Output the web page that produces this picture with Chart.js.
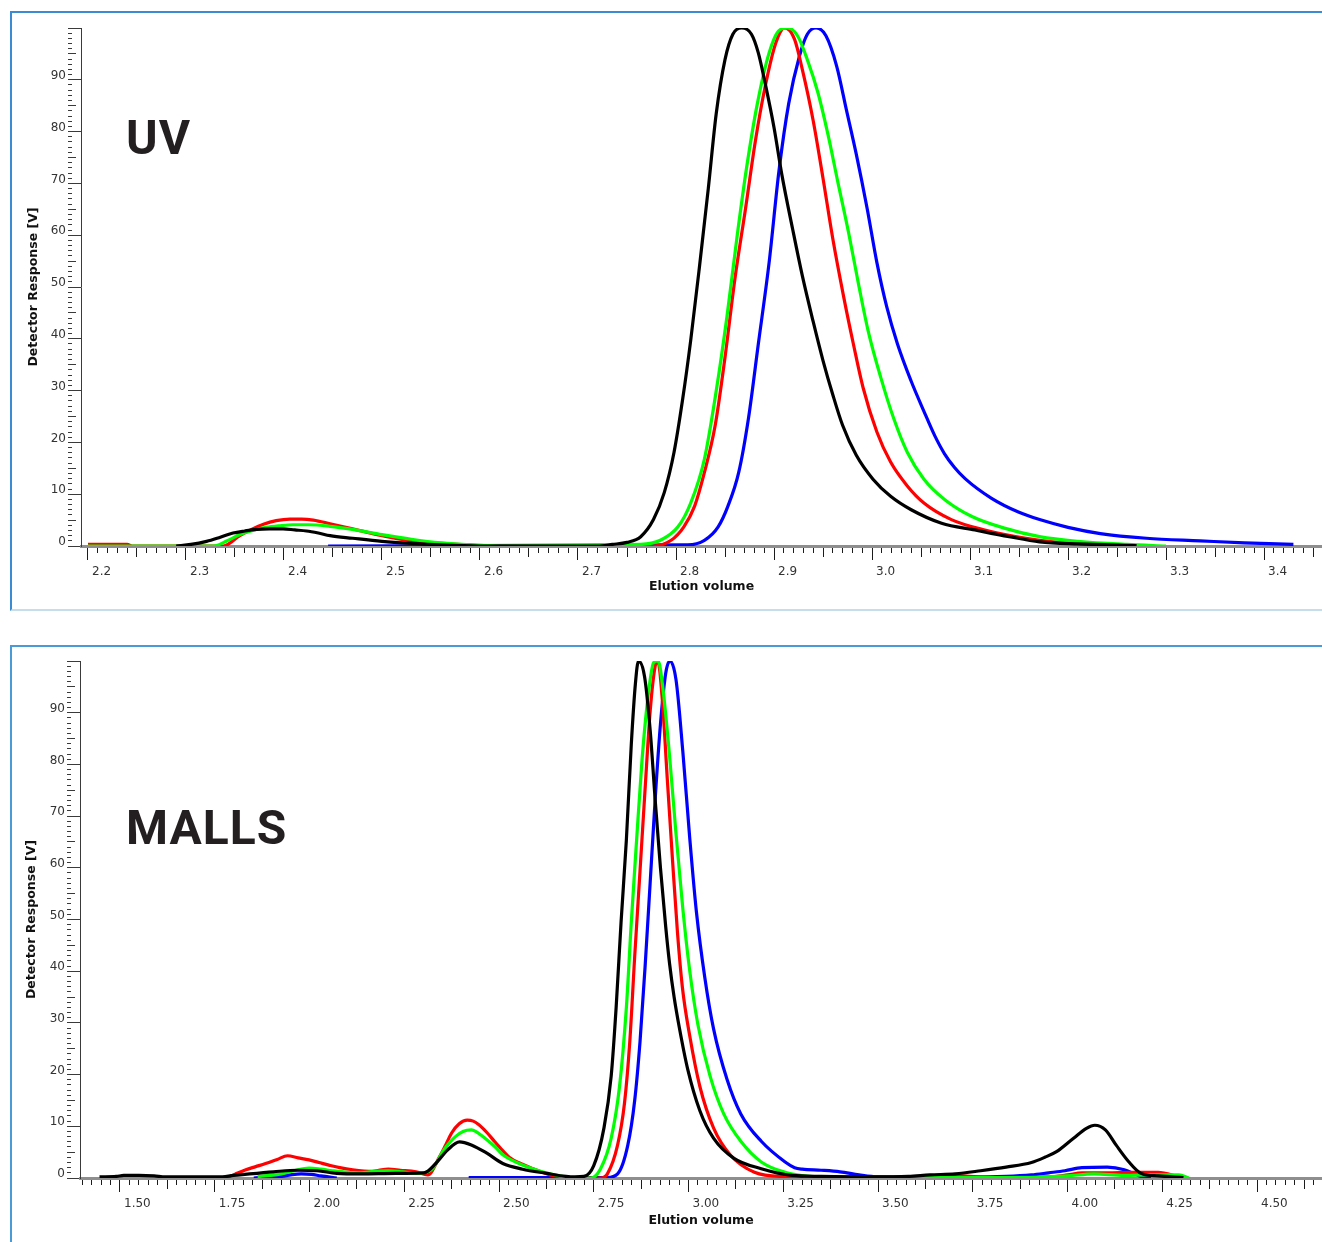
<!DOCTYPE html>
<html>
<head>
<meta charset="utf-8">
<title>UV / MALLS elution profiles</title>
<script src="https://cdn.jsdelivr.net/npm/chart.js@4.4.1/dist/chart.umd.min.js"></script>
<style>
  html, body { margin: 0; padding: 0; background: #fff; overflow: hidden; }
  body { width: 1322px; height: 1242px; position: relative; }
  .panel { position: absolute; left: 10px; width: 1340px; box-sizing: border-box; }
  #uvPanel { top: 11px; height: 600px; border-top: 2px solid #3b8bd2; border-left: 2px solid #3b8bd2; border-bottom: 2px solid #c6dee9; }
  #mallsPanel { top: 645px; height: 640px; border-top: 2px solid #4b9ad8; border-left: 2px solid #4b9ad8; }
  canvas { position: absolute; left: 12px; }
  #uvChart { top: 13px; }
  #mallsChart { top: 647px; }
  .tag { position: absolute; left: 126px; font-family: Roboto, "Liberation Sans", sans-serif; font-weight: 700; font-size: 48px; line-height: 1; letter-spacing: 1px; color: #231f20; }
</style>
</head>
<body>
<div class="panel" id="uvPanel"></div>
<div class="panel" id="mallsPanel"></div>
<canvas id="uvChart" width="1310" height="596"></canvas>
<canvas id="mallsChart" width="1310" height="595"></canvas>
<div class="tag" style="top:114px">UV</div>
<div class="tag" style="top:804px">MALLS</div>
<script>
// [elution volume, detector response]

// UV detector
const uvBlack = [[2.290,0.0],[2.305,0.3],[2.321,0.9],[2.335,1.7],[2.348,2.5],[2.360,2.9],[2.372,3.2],[2.385,3.3],[2.399,3.3],[2.411,3.1],[2.423,2.9],[2.435,2.5],[2.447,2.0],[2.470,1.5],[2.500,0.9],[2.530,0.5],[2.560,0.2],[2.600,0.0],[2.720,0.0],[2.735,0.3],[2.750,0.7],[2.764,1.8],[2.777,5.1],[2.788,10.3],[2.798,18.1],[2.807,28.6],[2.815,39.7],[2.824,54.0],[2.833,69.1],[2.841,83.4],[2.850,93.9],[2.858,98.8],[2.867,100.0],[2.877,98.8],[2.884,95.2],[2.891,89.3],[2.900,80.8],[2.908,71.7],[2.919,61.2],[2.929,52.1],[2.940,43.3],[2.950,35.8],[2.960,29.2],[2.970,23.3],[2.984,17.5],[3.001,12.9],[3.019,9.6],[3.040,7.0],[3.071,4.4],[3.105,3.1],[3.140,1.8],[3.171,0.8],[3.210,0.4],[3.270,0.1]];
const uvRed = [[2.200,0.3],[2.240,0.3],[2.245,0.0],[2.338,0.0],[2.355,2.0],[2.367,3.2],[2.379,4.2],[2.392,4.9],[2.406,5.2],[2.418,5.2],[2.430,5.0],[2.447,4.3],[2.470,3.3],[2.500,2.0],[2.530,1.0],[2.560,0.5],[2.590,0.2],[2.620,0.0],[2.777,0.0],[2.795,1.1],[2.808,3.7],[2.819,7.7],[2.829,14.2],[2.840,23.3],[2.850,36.4],[2.860,51.4],[2.871,65.2],[2.881,78.2],[2.891,88.7],[2.902,97.2],[2.911,100.0],[2.921,97.8],[2.929,91.9],[2.940,82.1],[2.950,71.0],[2.960,59.3],[2.971,48.2],[2.981,39.0],[2.991,30.5],[3.005,22.0],[3.019,16.2],[3.036,11.6],[3.053,8.3],[3.081,5.1],[3.115,3.1],[3.157,1.5],[3.190,0.7],[3.230,0.2]];
const uvGreen = [[2.200,0.0],[2.328,0.0],[2.342,1.0],[2.355,2.2],[2.368,3.0],[2.382,3.6],[2.395,3.9],[2.409,4.1],[2.425,4.1],[2.447,3.8],[2.470,3.2],[2.500,2.2],[2.530,1.3],[2.560,0.6],[2.590,0.2],[2.620,0.0],[2.764,0.3],[2.784,1.1],[2.802,3.7],[2.815,8.3],[2.829,16.8],[2.841,29.9],[2.852,44.3],[2.862,59.3],[2.872,73.0],[2.883,85.4],[2.895,95.2],[2.905,99.5],[2.914,100.0],[2.924,98.5],[2.934,93.9],[2.945,87.4],[2.955,79.5],[2.965,70.4],[2.976,60.6],[2.986,50.8],[2.996,41.6],[3.009,32.5],[3.022,24.7],[3.036,18.1],[3.053,12.9],[3.074,9.0],[3.102,5.7],[3.136,3.4],[3.171,1.8],[3.210,0.9],[3.260,0.3],[3.300,0.0]];
const uvBlue = [[2.445,0.0],[2.812,0.2],[2.829,1.1],[2.843,3.7],[2.853,7.7],[2.864,14.2],[2.874,24.7],[2.884,39.0],[2.895,54.7],[2.905,72.3],[2.915,85.4],[2.926,94.6],[2.934,98.8],[2.943,100.0],[2.953,98.5],[2.964,92.6],[2.974,84.1],[2.984,75.6],[2.995,65.2],[3.005,54.7],[3.015,46.2],[3.026,39.0],[3.040,31.8],[3.053,26.0],[3.064,21.3],[3.074,17.8],[3.084,15.2],[3.095,13.0],[3.122,9.2],[3.150,6.5],[3.171,5.1],[3.200,3.6],[3.233,2.4],[3.280,1.5],[3.335,1.0],[3.380,0.6],[3.430,0.3]];

// MALLS detector
const mallsBlack = [[1.446,0.2],[1.490,0.3],[1.510,0.5],[1.550,0.5],[1.590,0.4],[1.620,0.2],[1.700,0.2],[1.759,0.2],[1.800,0.5],[1.842,0.8],[1.905,1.2],[1.968,1.5],[2.020,1.4],[2.072,0.9],[2.135,0.8],[2.228,0.9],[2.302,1.0],[2.333,2.8],[2.364,5.4],[2.396,7.0],[2.427,6.4],[2.468,4.8],[2.510,2.8],[2.562,1.7],[2.625,0.9],[2.677,0.3],[2.700,0.2],[2.724,0.3],[2.750,2.4],[2.777,9.7],[2.796,19.7],[2.809,32.9],[2.822,49.4],[2.836,65.3],[2.849,83.8],[2.860,95.7],[2.868,100.0],[2.884,97.0],[2.899,86.5],[2.912,73.2],[2.926,60.0],[2.940,48.5],[2.950,41.5],[2.962,35.0],[2.976,29.0],[2.998,21.0],[3.030,13.0],[3.066,7.7],[3.120,3.8],[3.192,1.8],[3.273,0.5],[3.350,0.3],[3.481,0.2],[3.580,0.3],[3.637,0.6],[3.704,0.8],[3.771,1.4],[3.838,2.1],[3.905,3.0],[3.940,4.0],[3.971,5.1],[4.016,7.7],[4.050,9.6],[4.072,10.2],[4.100,9.3],[4.128,6.4],[4.161,3.2],[4.194,0.9],[4.239,0.4],[4.306,0.1]];
const mallsRed = [[1.780,0.0],[1.805,0.8],[1.832,1.6],[1.858,2.2],[1.884,2.8],[1.915,3.6],[1.942,4.3],[1.970,3.9],[1.999,3.5],[2.025,3.0],[2.051,2.5],[2.080,2.0],[2.114,1.6],[2.166,1.3],[2.190,1.6],[2.208,1.7],[2.240,1.5],[2.281,1.2],[2.312,0.6],[2.343,4.1],[2.360,6.5],[2.375,8.7],[2.395,10.5],[2.416,11.2],[2.432,11.0],[2.447,10.3],[2.468,8.8],[2.489,7.0],[2.510,5.3],[2.531,3.8],[2.557,2.8],[2.583,2.0],[2.610,1.2],[2.635,0.6],[2.687,0.0],[2.768,0.0],[2.786,0.8],[2.813,6.4],[2.831,14.4],[2.845,26.3],[2.858,42.8],[2.872,59.3],[2.886,75.9],[2.899,90.4],[2.912,99.0],[2.919,100.0],[2.931,92.4],[2.944,77.2],[2.958,61.3],[2.971,47.4],[2.984,36.8],[3.003,27.6],[3.030,17.7],[3.066,9.7],[3.111,4.4],[3.174,1.1],[3.246,0.3],[3.400,0.2],[3.600,0.2],[3.660,0.5],[3.720,0.4],[3.800,0.1],[3.950,0.2],[4.000,0.6],[4.038,1.0],[4.105,1.0],[4.170,1.1],[4.239,1.1],[4.295,0.2]];
const mallsGreen = [[1.863,0.3],[1.895,0.5],[1.926,0.8],[1.960,1.4],[1.999,1.9],[2.030,1.7],[2.061,1.4],[2.100,1.1],[2.135,1.0],[2.170,1.3],[2.208,1.4],[2.245,1.2],[2.281,0.9],[2.322,1.6],[2.354,5.4],[2.370,6.9],[2.385,8.0],[2.405,9.0],[2.427,9.3],[2.447,8.6],[2.468,7.4],[2.490,6.0],[2.510,4.5],[2.535,3.4],[2.562,2.5],[2.614,1.2],[2.677,0.2],[2.742,0.0],[2.768,1.8],[2.796,7.7],[2.818,17.7],[2.836,32.9],[2.849,49.4],[2.863,65.3],[2.877,80.5],[2.893,93.0],[2.908,99.7],[2.920,100.0],[2.932,95.0],[2.949,82.5],[2.967,66.6],[2.985,52.1],[3.003,40.2],[3.025,29.6],[3.057,19.7],[3.093,12.4],[3.138,7.1],[3.192,3.1],[3.255,1.1],[3.318,0.3],[3.400,0.1],[3.900,0.1],[3.950,0.2],[4.000,0.4],[4.070,0.8],[4.150,0.5],[4.220,0.6],[4.294,0.6],[4.320,0.0]];
const mallsBlue = [[1.853,0.0],[1.890,0.2],[1.926,0.3],[1.950,0.6],[1.978,0.8],[2.005,0.7],[2.030,0.4],[2.072,0.0],[2.250,null],[2.420,0.1],[2.786,0.1],[2.813,0.8],[2.840,6.4],[2.858,15.0],[2.872,26.3],[2.886,41.5],[2.899,57.3],[2.912,73.2],[2.926,87.8],[2.940,97.7],[2.951,100.0],[2.967,96.4],[2.985,82.5],[3.003,66.0],[3.021,51.4],[3.043,38.8],[3.066,28.9],[3.102,19.0],[3.138,12.4],[3.192,7.1],[3.255,3.1],[3.280,2.0],[3.300,1.7],[3.350,1.5],[3.400,1.2],[3.450,0.6],[3.500,0.2],[3.700,0.1],[3.838,0.3],[3.905,0.6],[3.950,1.0],[3.993,1.4],[4.038,2.0],[4.105,2.1],[4.150,1.6],[4.194,0.3],[4.220,0.0]];

const traceColors = { black: '#000000', green: '#00ff00', red: '#ff0000', blue: '#0000ff' };
const yTickLabels = [0, 10, 20, 30, 40, 50, 60, 70, 80, 90];

const isMultiple = (v, step) => Math.abs(v / step - Math.round(v / step)) < 1e-6;
const toPoints = (pairs) => pairs.map(([x, y]) => ({ x, y }));

// tick marks of three lengths, cut from one long tick with a dash
const tickDash = (v, major, medium, medLen, minLen) => {
    if (isMultiple(v, major)) return [];
    if (isMultiple(v, medium)) return [medLen, 60];
    return [minLen, 60];
};

const buildChart = (canvasId, traces, axis) => {
    const datasets = traces.map(t => ({
        label: t.name,
        data: toPoints(t.data),
        borderColor: traceColors[t.name],
        borderWidth: 3.2,
        pointRadius: 0,
        fill: false,
        spanGaps: false,
        cubicInterpolationMode: 'monotone'
    }));

    return new Chart(document.getElementById(canvasId), {
        type: 'line',
        data: { datasets },
        options: {
            responsive: false,
            animation: false,
            events: [],
            layout: { padding: { top: axis.padTop, right: 0, bottom: 0, left: 0 } },
            plugins: { legend: { display: false }, tooltip: { enabled: false } },
            scales: {
                x: {
                    type: 'linear',
                    min: axis.min,
                    max: axis.max,
                    bounds: 'data',
                    afterBuildTicks: (scale) => {
                        const ticks = [];
                        for (let i = Math.ceil(scale.min / axis.step - 1e-9); i * axis.step <= scale.max + 1e-9; i++) {
                            ticks.push({ value: Math.round(i * axis.step * 1000) / 1000 });
                        }
                        scale.ticks = ticks;
                    },
                    afterFit: (scale) => { scale.height = axis.xHeight; },
                    border: { color: '#8e8e8e', width: 3 },
                    grid: {
                        drawOnChartArea: false,
                        lineWidth: 1,
                        tickLength: 14,
                        tickWidth: 1,
                        tickColor: '#1c1c1c',
                        tickBorderDash: (ctx) => ctx.tick ? tickDash(ctx.tick.value, axis.major, axis.medium, 9, 5) : []
                    },
                    ticks: {
                        autoSkip: false,
                        maxRotation: 0,
                        minRotation: 0,
                        align: 'start',
                        labelOffset: 4,
                        padding: 5,
                        color: '#333',
                        font: { family: 'DejaVu Sans', size: 12 },
                        callback: (v) => isMultiple(v, axis.major) ? v.toFixed(axis.decimals) : ''
                    },
                    title: {
                        display: true,
                        text: 'Elution volume',
                        color: '#111',
                        font: { family: 'DejaVu Sans', size: 12.5, weight: 'bold' },
                        padding: { top: 0, bottom: axis.xTitlePad }
                    }
                },
                y: {
                    min: 0,
                    max: 100,
                    afterFit: (scale) => { scale.width = axis.yWidth; },
                    border: { color: '#3a3a3a', width: 1 },
                    grid: {
                        drawOnChartArea: false,
                        lineWidth: 1,
                        tickLength: 13,
                        tickWidth: 1,
                        tickColor: '#3a3a3a',
                        tickBorderDash: (ctx) => ctx.tick ? tickDash(ctx.tick.value, 10, 5, 8, 4) : []
                    },
                    ticks: {
                        stepSize: 1,
                        autoSkip: false,
                        padding: 2,
                        labelOffset: -4,
                        color: '#333',
                        font: { family: 'DejaVu Sans', size: 12 },
                        callback: (v) => yTickLabels.includes(v) ? String(v) : ''
                    },
                    title: {
                        display: true,
                        text: 'Detector Response [V]',
                        color: '#111',
                        font: { family: 'DejaVu Sans', size: 12.5, weight: 'bold' },
                        padding: { top: axis.yTitlePad, bottom: 0 }
                    }
                }
            }
        }
    });
};

// first trace is drawn on top
buildChart('uvChart', [
    { name: 'black', data: uvBlack },
    { name: 'green', data: uvGreen },
    { name: 'red', data: uvRed },
    { name: 'blue', data: uvBlue }
], { min: 2.19286, max: 3.45918, step: 0.01, major: 0.1, medium: 0.05, decimals: 1,
     padTop: 15, xHeight: 63, yWidth: 69, xTitlePad: 14.5, yTitlePad: 14.5 });

buildChart('mallsChart', [
    { name: 'black', data: mallsBlack },
    { name: 'green', data: mallsGreen },
    { name: 'red', data: mallsRed },
    { name: 'blue', data: mallsBlue }
], { min: 1.39446, max: 4.67150, step: 0.025, major: 0.25, medium: 0.125, decimals: 2,
     padTop: 14, xHeight: 64, yWidth: 68, xTitlePad: 13.5, yTitlePad: 12.5 });
</script>
</body>
</html>
